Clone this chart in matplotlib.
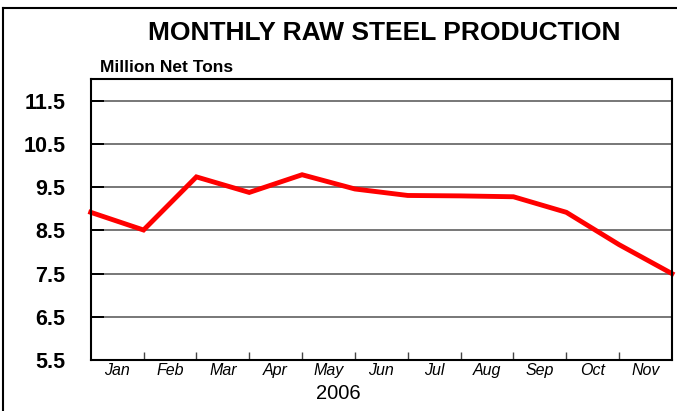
import matplotlib
matplotlib.use("Agg")
import matplotlib.pyplot as plt
from matplotlib.lines import Line2D
import numpy as np

# values (points sit on the month boundaries)
production = [8.92, 8.51, 9.74, 9.38, 9.79, 9.46, 9.31, 9.30, 9.28, 8.92, 8.17, 7.50]
months = ["Jan", "Feb", "Mar", "Apr", "May", "Jun", "Jul", "Aug", "Sep", "Oct", "Nov"]
y_ticks = [5.5, 6.5, 7.5, 8.5, 9.5, 10.5, 11.5]

plt.rcParams["font.family"] = ["Liberation Sans", "DejaVu Sans"]

fig = plt.figure(figsize=(6.77, 4.11), dpi=100)
ax = fig.add_axes([90.7 / 677, 51 / 411, (672 - 90.7) / 677, (360 - 79.3) / 411])

x = np.arange(len(production))
ax.plot(x, production, color="#ff0000", linewidth=3.5, solid_joinstyle="miter",
        zorder=3, clip_on=False)

ax.set_xlim(0, len(production) - 1)
ax.set_ylim(5.5, 12.0)

ax.set_yticks(y_ticks)
ax.set_yticklabels([f"{v:.1f}" for v in y_ticks], fontsize=15.5, fontweight="bold")
ax.yaxis.grid(True, color="#777777", linewidth=1.4, zorder=1)
ax.tick_params(axis="y", direction="in", length=9, width=1.4, color="black", pad=18)

# boundary ticks as major, month names centred between them
ax.set_xticks(x[1:-1])
ax.set_xticklabels([])
ax.set_xticks(x[:-1] + 0.5, minor=True)
ax.set_xticklabels(months, minor=True, fontsize=11.5, style="italic")
ax.tick_params(axis="x", which="major", direction="in", length=6, width=1.0, color="#444444")
ax.tick_params(axis="x", which="minor", length=0, pad=2.5)

for s in ax.spines.values():
    s.set_linewidth(1.5)
    s.set_color("black")
    s.set_zorder(4)

fig.text(384 / 677, 1 - 33 / 411, "MONTHLY RAW STEEL PRODUCTION", fontsize=19,
         fontweight="bold", ha="center", va="center")
fig.text(100 / 677, 1 - 67 / 411, "Million Net Tons", fontsize=12.5,
         fontweight="bold", ha="left", va="center")
fig.text(338 / 677, 1 - 393 / 411, "2006", fontsize=14.5, ha="center", va="center")

# partial frame round the figure
fig.add_artist(Line2D([2.5 / 677, 2.5 / 677], [0, 1 - 8 / 411], color="black",
                      linewidth=1.5, transform=fig.transFigure))
fig.add_artist(Line2D([2.5 / 677, 1], [1 - 8 / 411, 1 - 8 / 411], color="black",
                      linewidth=1.5, transform=fig.transFigure))

fig.savefig("out.png", dpi=100)
